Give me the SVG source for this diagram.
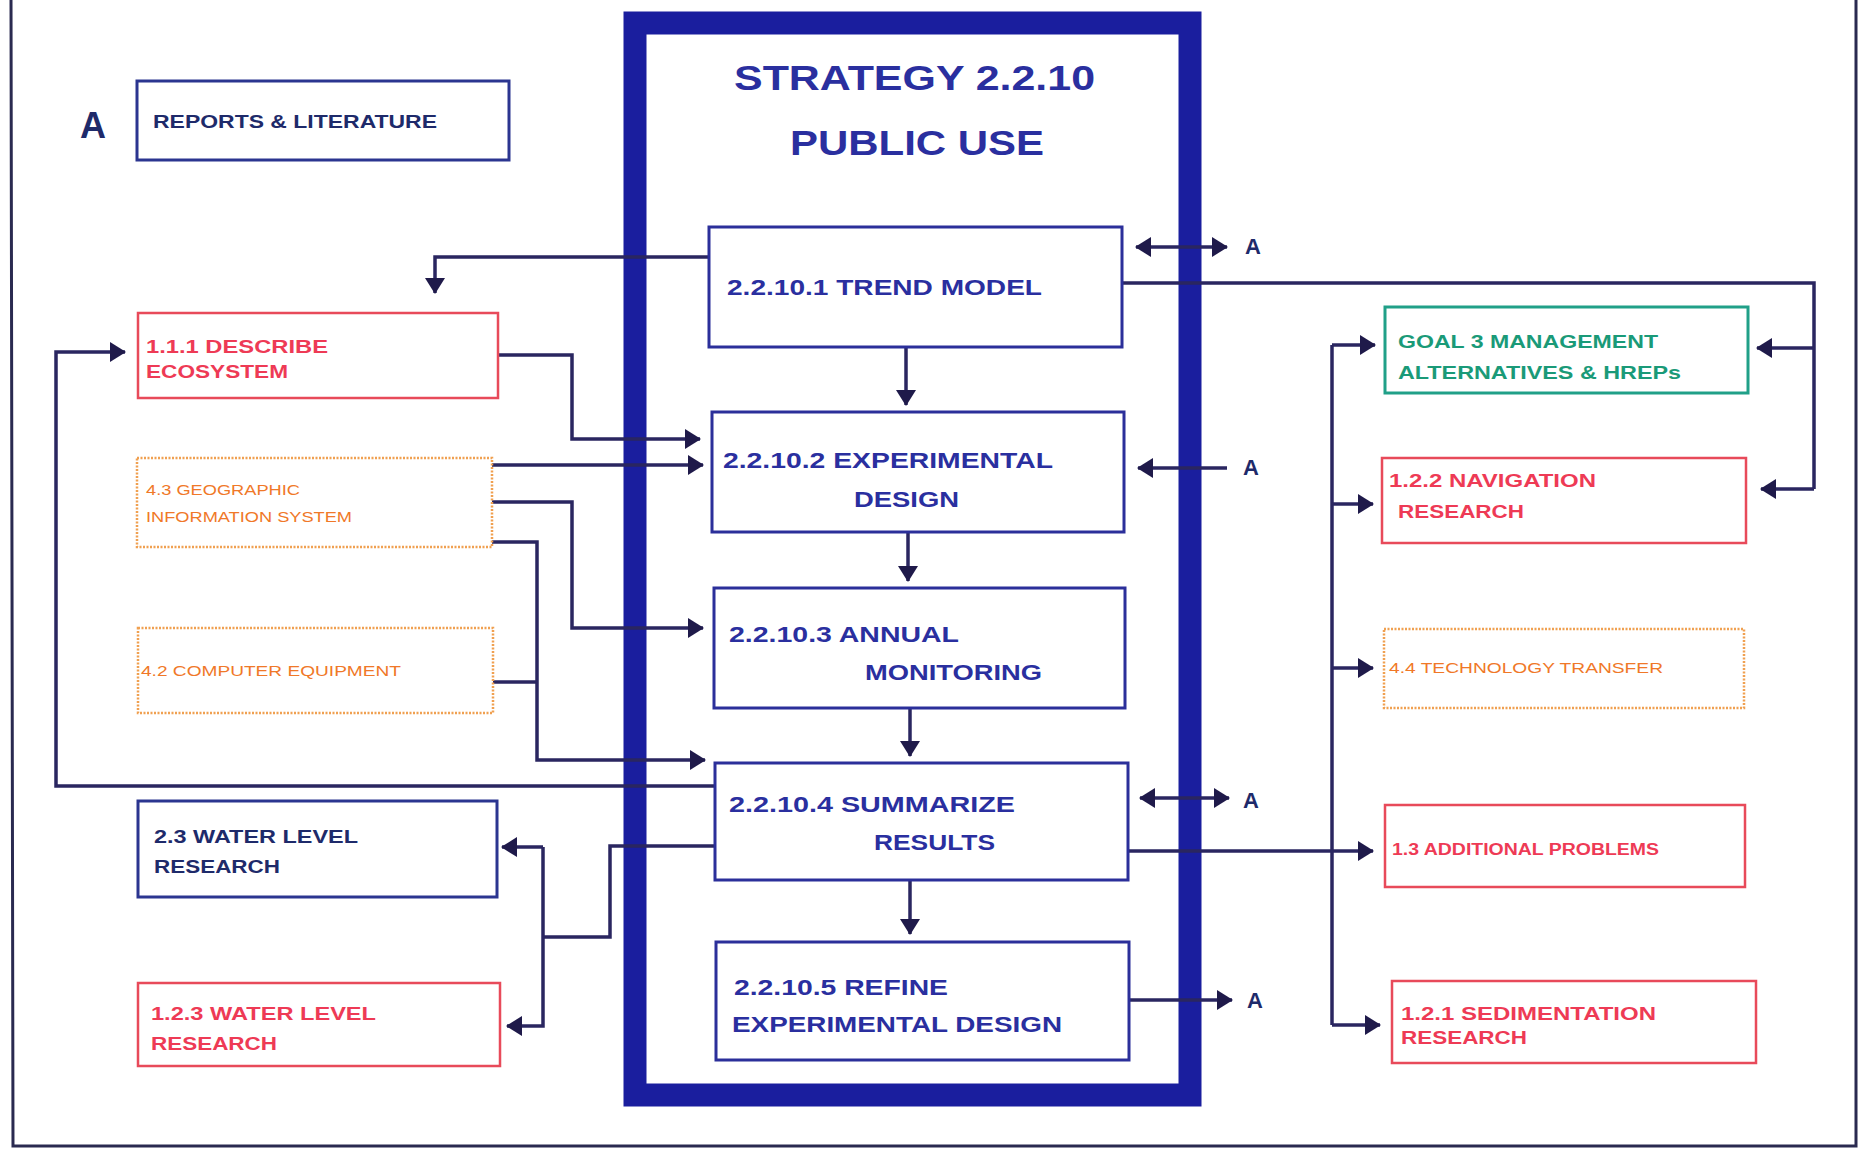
<svg xmlns="http://www.w3.org/2000/svg" width="1862" height="1149" viewBox="0 0 1862 1149">
<style>
text{font-family:"Liberation Sans",Arial,sans-serif;font-weight:bold}
.blue{fill:#2a2f9f}
.navy{fill:#1e2a6a}
.red{fill:#ee3a55}
.orange{fill:#f07828;font-weight:normal}
.teal{fill:#1a9a78}
.cbox{fill:#fff;stroke:#2b2f9a;stroke-width:3}
.rbox{fill:#fff;stroke:#e84a5a;stroke-width:2.5}
.obox{fill:#fff;stroke:#f0a050;stroke-width:2.5;stroke-dasharray:2 1.5}
.tbox{fill:#fff;stroke:#20a088;stroke-width:3}
.bbox{fill:#fff;stroke:#2b3590;stroke-width:3}
.c{fill:none;stroke:#2a2660;stroke-width:3.5}
.a{marker-end:url(#ah)}
.d{marker-end:url(#ah);marker-start:url(#ah)}
</style>
<defs>
<marker id="ah" markerUnits="userSpaceOnUse" markerWidth="16" markerHeight="20" refX="15" refY="10" orient="auto-start-reverse">
<path d="M0,0 L16,10 L0,20 z" fill="#1f1a4a"/>
</marker>
</defs>
<rect width="1862" height="1149" fill="#fff"/>
<polyline points="11,0 13,1146 1856,1146 1856,0" fill="none" stroke="#2a2a50" stroke-width="3"/>
<g id="strategy">
<rect x="635" y="23" width="555" height="1072" fill="none" stroke="#1a1e9e" stroke-width="23"/>
<text class="blue" x="734" y="90" font-size="35" textLength="361" lengthAdjust="spacingAndGlyphs">STRATEGY 2.2.10</text>
<text class="blue" x="790" y="155" font-size="35" textLength="254" lengthAdjust="spacingAndGlyphs">PUBLIC USE</text>
</g>
<g id="connectors">
<path class="c a" d="M709,257 H435 V293"/>
<path class="c" d="M1122,283 H1814 V489"/>
<path class="c a" d="M1814,348 H1757"/>
<path class="c a" d="M1814,489 H1761"/>
<path class="c d" d="M1136,247 H1227"/>
<path class="c a" d="M906,347 V405"/>
<path class="c a" d="M908,532 V581"/>
<path class="c a" d="M910,708 V756"/>
<path class="c a" d="M910,880 V934"/>
<path class="c a" d="M1227,468 H1138"/>
<path class="c d" d="M1140,798 H1229"/>
<path class="c a" d="M1129,1000 H1232"/>
<path class="c a" d="M498,355 H572 V439 H700"/>
<path class="c a" d="M492,465 H703"/>
<path class="c a" d="M492,502 H572 V628 H703"/>
<path class="c a" d="M492,542 H537 V760 H705"/>
<path class="c" d="M493,682 H537"/>
<path class="c a" d="M715,786 H56 V352 H125"/>
<path class="c" d="M715,846 H610 V937 H543"/>
<path class="c a" d="M543,847 H502"/>
<path class="c a" d="M543,847 V1026 H507"/>
<path class="c a" d="M1128,851 H1373"/>
<path class="c a" d="M1332,345 H1375"/>
<path class="c" d="M1332,345 V1025"/>
<path class="c a" d="M1332,504 H1373"/>
<path class="c a" d="M1332,668 H1373"/>
<path class="c a" d="M1332,1025 H1380"/>
</g>
<g id="labelsA">
<text class="navy" x="80" y="138" font-size="36">A</text>
<text class="navy" x="1245" y="254" font-size="22">A</text>
<text class="navy" x="1243" y="475" font-size="22">A</text>
<text class="navy" x="1243" y="808" font-size="22">A</text>
<text class="navy" x="1247" y="1008" font-size="22">A</text>
</g>
<g id="reports">
<rect class="bbox" x="137" y="81" width="372" height="79"/>
<text class="navy" x="153" y="128" font-size="19" textLength="284" lengthAdjust="spacingAndGlyphs">REPORTS &amp; LITERATURE</text>
</g>
<g id="n2210_1">
<rect class="cbox" x="709" y="227" width="413" height="120"/>
<text class="blue" x="727" y="295" font-size="22" textLength="315" lengthAdjust="spacingAndGlyphs">2.2.10.1 TREND MODEL</text>
</g>
<g id="n2210_2">
<rect class="cbox" x="712" y="412" width="412" height="120"/>
<text class="blue" x="723" y="468" font-size="22" textLength="330" lengthAdjust="spacingAndGlyphs">2.2.10.2 EXPERIMENTAL</text>
<text class="blue" x="854" y="507" font-size="22" textLength="105" lengthAdjust="spacingAndGlyphs">DESIGN</text>
</g>
<g id="n2210_3">
<rect class="cbox" x="714" y="588" width="411" height="120"/>
<text class="blue" x="729" y="642" font-size="22" textLength="230" lengthAdjust="spacingAndGlyphs">2.2.10.3 ANNUAL</text>
<text class="blue" x="865" y="680" font-size="22" textLength="177" lengthAdjust="spacingAndGlyphs">MONITORING</text>
</g>
<g id="n2210_4">
<rect class="cbox" x="715" y="763" width="413" height="117"/>
<text class="blue" x="729" y="812" font-size="22" textLength="286" lengthAdjust="spacingAndGlyphs">2.2.10.4  SUMMARIZE</text>
<text class="blue" x="874" y="850" font-size="22" textLength="121" lengthAdjust="spacingAndGlyphs">RESULTS</text>
</g>
<g id="n2210_5">
<rect class="cbox" x="716" y="942" width="413" height="118"/>
<text class="blue" x="734" y="995" font-size="22" textLength="214" lengthAdjust="spacingAndGlyphs">2.2.10.5 REFINE</text>
<text class="blue" x="732" y="1032" font-size="22" textLength="330" lengthAdjust="spacingAndGlyphs">EXPERIMENTAL DESIGN</text>
</g>
<g id="n111">
<rect class="rbox" x="138" y="313" width="360" height="85"/>
<text class="red" x="146" y="353" font-size="19" textLength="182" lengthAdjust="spacingAndGlyphs">1.1.1 DESCRIBE</text>
<text class="red" x="146" y="378" font-size="19" textLength="142" lengthAdjust="spacingAndGlyphs">ECOSYSTEM</text>
</g>
<g id="n43">
<rect class="obox" x="137" y="458" width="355" height="89"/>
<text class="orange" x="146" y="495" font-size="14" textLength="154" lengthAdjust="spacingAndGlyphs">4.3 GEOGRAPHIC</text>
<text class="orange" x="146" y="522" font-size="14" textLength="206" lengthAdjust="spacingAndGlyphs">INFORMATION SYSTEM</text>
</g>
<g id="n42">
<rect class="obox" x="138" y="628" width="355" height="85"/>
<text class="orange" x="141" y="676" font-size="14" textLength="260" lengthAdjust="spacingAndGlyphs">4.2 COMPUTER EQUIPMENT</text>
</g>
<g id="n23">
<rect class="bbox" x="138" y="801" width="359" height="96"/>
<text class="navy" x="154" y="843" font-size="18" textLength="204" lengthAdjust="spacingAndGlyphs">2.3 WATER LEVEL</text>
<text class="navy" x="154" y="873" font-size="18" textLength="126" lengthAdjust="spacingAndGlyphs">RESEARCH</text>
</g>
<g id="n123">
<rect class="rbox" x="138" y="983" width="362" height="83"/>
<text class="red" x="151" y="1020" font-size="18" textLength="225" lengthAdjust="spacingAndGlyphs">1.2.3 WATER LEVEL</text>
<text class="red" x="151" y="1050" font-size="18" textLength="126" lengthAdjust="spacingAndGlyphs">RESEARCH</text>
</g>
<g id="goal3">
<rect class="tbox" x="1385" y="307" width="363" height="86"/>
<text class="teal" x="1398" y="348" font-size="18" textLength="260" lengthAdjust="spacingAndGlyphs">GOAL 3 MANAGEMENT</text>
<text class="teal" x="1398" y="379" font-size="18" textLength="283" lengthAdjust="spacingAndGlyphs">ALTERNATIVES &amp; HREPs</text>
</g>
<g id="n122">
<rect class="rbox" x="1382" y="458" width="364" height="85"/>
<text class="red" x="1389" y="487" font-size="19" textLength="207" lengthAdjust="spacingAndGlyphs">1.2.2 NAVIGATION</text>
<text class="red" x="1398" y="518" font-size="19" textLength="126" lengthAdjust="spacingAndGlyphs">RESEARCH</text>
</g>
<g id="n44">
<rect class="obox" x="1384" y="629" width="360" height="79"/>
<text class="orange" x="1389" y="673" font-size="14" textLength="274" lengthAdjust="spacingAndGlyphs">4.4 TECHNOLOGY TRANSFER</text>
</g>
<g id="n13">
<rect class="rbox" x="1385" y="805" width="360" height="82"/>
<text class="red" x="1392" y="855" font-size="16" textLength="267" lengthAdjust="spacingAndGlyphs">1.3 ADDITIONAL PROBLEMS</text>
</g>
<g id="n121">
<rect class="rbox" x="1392" y="981" width="364" height="82"/>
<text class="red" x="1401" y="1020" font-size="19" textLength="255" lengthAdjust="spacingAndGlyphs">1.2.1  SEDIMENTATION</text>
<text class="red" x="1401" y="1044" font-size="19" textLength="126" lengthAdjust="spacingAndGlyphs">RESEARCH</text>
</g>
</svg>
